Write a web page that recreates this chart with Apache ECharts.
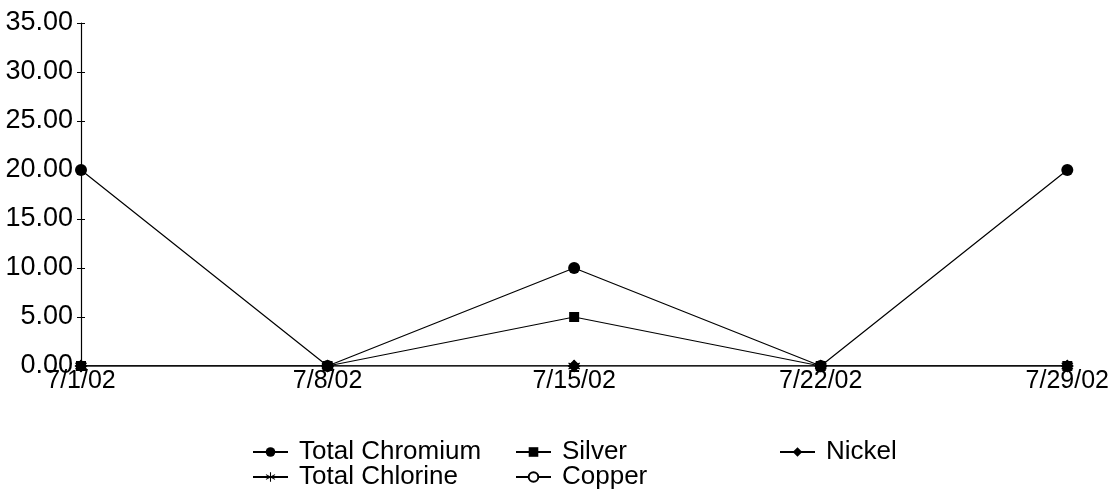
<!DOCTYPE html>
<html>
<head>
<meta charset="utf-8">
<script src="https://cdn.jsdelivr.net/npm/echarts@6/dist/echarts.min.js"></script>
<style>
  html, body { margin: 0; padding: 0; background: #fff; }
  #chart { width: 1112px; height: 497px; }
</style>
</head>
<body>
<div id="chart"></div>
<script>
// 日期（横坐标）
const dates = ["7/1/02", "7/8/02", "7/15/02", "7/22/02", "7/29/02"];
// 各项数值
const totalChromium = [20, 0, 10, 0, 20];
const silver = [0, 0, 5, 0, 0];
const nickel = [0, 0, 0, 0, 0];
const totalChlorine = [0, 0, 0, 0, 0];
const copper = [0, 0, 0, 0, 0];

const font = "Liberation Sans, Arial, sans-serif";
// 星号形状
const asterisk = "path://M4.5 0h1v10h-1z M0.92 7.93L9.58 2.93L9.08 2.07L0.42 7.07z M0.42 2.93L9.08 7.93L9.58 7.07L0.92 2.07z";

function lineSeries(name, data, symbol, size) {
  return {
    name: name,
    type: "line",
    data: data,
    symbol: symbol,
    symbolSize: size,
    showAllSymbol: true,
    lineStyle: { color: "#000", width: 1.2 },
    itemStyle: { color: "#000" },
    emphasis: { disabled: true },
    animation: false
  };
}

function oneLegend(name, left, top) {
  return {
    data: [name],
    left: left,
    top: top,
    padding: 0,
    itemWidth: 35,
    itemHeight: 12,
    selectedMode: false,
    textStyle: { fontFamily: font, fontSize: 26, color: "#000", lineHeight: 26, padding: [0, 0, 0, 6] }
  };
}

const option = {
  backgroundColor: "#fff",
  grid: { left: 81, right: 42, top: 23, bottom: 131, containLabel: false },
  legend: [
    oneLegend("Total Chromium", 252, 439),
    oneLegend("Silver", 515, 439),
    oneLegend("Nickel", 779, 439),
    oneLegend("Total Chlorine", 252, 464),
    oneLegend("Copper", 515, 464)
  ],
  xAxis: {
    type: "category",
    data: dates,
    boundaryGap: false,
    axisLine: { show: false },
    axisTick: { show: false },
    axisLabel: { margin: 3, color: "#000", fontFamily: font, fontSize: 25 },
    splitLine: { show: false }
  },
  yAxis: [
    {
      type: "value",
      min: 0,
      max: 35,
      interval: 5,
      axisLine: { show: true, lineStyle: { color: "#000", width: 1.2 } },
      axisTick: { show: true, inside: false, length: 4, lineStyle: { color: "#000" } },
      axisLabel: { margin: 8, color: "#000", fontFamily: font, fontSize: 27, formatter: v => v.toFixed(2) },
      splitLine: { show: false }
    },
    {
      type: "value",
      position: "left",
      min: 0,
      max: 35,
      interval: 5,
      axisLine: { show: false },
      axisTick: { show: true, inside: true, length: 4, lineStyle: { color: "#000" } },
      axisLabel: { show: false },
      splitLine: { show: false }
    }
  ],
  series: [
    lineSeries("Copper", copper, "emptyCircle", 6),
    lineSeries("Total Chlorine", totalChlorine, asterisk, 12),
    lineSeries("Total Chromium", totalChromium, "circle", 12),
    lineSeries("Silver", silver, "rect", 10),
    lineSeries("Nickel", nickel, "diamond", 13)
  ]
};

const myChart = echarts.init(document.getElementById("chart"));
myChart.setOption(option);
window.addEventListener("resize", () => { myChart.resize(); });
</script>
</body>
</html>
